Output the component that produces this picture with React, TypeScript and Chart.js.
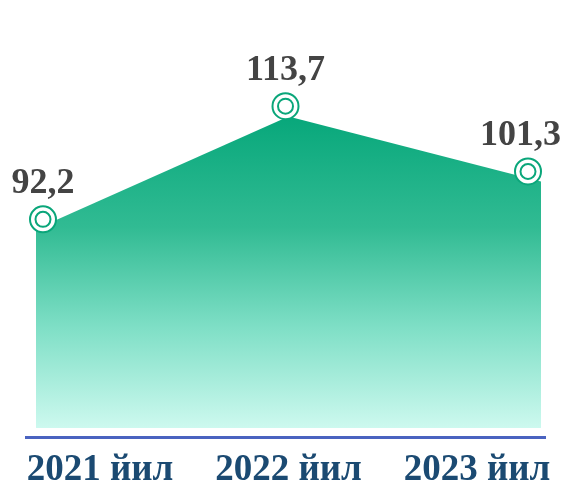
import React, { useEffect, useRef } from "react";
import { Chart, registerables } from "chart.js";

Chart.register(...registerables);

const categories = ["2021 йил", "2022 йил", "2023 йил"];
const values = [92.2, 113.7, 101.3];

const GREEN = "#0aa67a";
const LABEL_FONT = "'Liberation Serif', 'Times New Roman', serif";

const valueLabels = {
  id: "valueLabels",
  afterDatasetsDraw(chart: any) {
    const meta = chart.getDatasetMeta(1);
    const ctx = chart.ctx;
    ctx.save();
    ctx.font = `bold 36px ${LABEL_FONT}`;
    ctx.fillStyle = "#444444";
    ctx.textAlign = "center";
    ctx.textBaseline = "alphabetic";
    meta.data.forEach((el: any, i: number) => {
      const text = values[i].toFixed(1).replace(".", ",");
      const w = ctx.measureText(text).width;
      let x = el.x;
      if (x + w / 2 > chart.width - 5) x = chart.width - 5 - w / 2;
      if (x - w / 2 < 5) x = 5 + w / 2;
      ctx.fillText(text, x, el.y - 26);
    });
    ctx.restore();
  },
};

export default function App() {
  const ref = useRef<HTMLCanvasElement>(null);
  useEffect(() => {
    if (!ref.current) return;
    const pts = values.map((v, i) => ({ x: i, y: v }));
    const chart = new Chart(ref.current, {
      type: "line",
      data: {
        datasets: [
          {
            data: pts,
            xAxisID: "xm",
            yAxisID: "ym",
            showLine: false,
            pointRadius: 7.5,
            pointBackgroundColor: "#ffffff",
            pointBorderColor: GREEN,
            pointBorderWidth: 2,
            order: 1,
          },
          {
            data: pts,
            xAxisID: "xm",
            yAxisID: "ym",
            showLine: false,
            pointRadius: 13,
            pointBackgroundColor: "#ffffff",
            pointBorderColor: GREEN,
            pointBorderWidth: 2,
            order: 2,
          },
          {
            data: pts,
            xAxisID: "xa",
            yAxisID: "ya",
            borderWidth: 0,
            pointRadius: 0,
            tension: 0,
            fill: { value: 54.2 },
            backgroundColor: (c: any) => {
              const { chart: ch } = c;
              const area = ch.chartArea;
              if (!area) return GREEN;
              const g = ch.ctx.createLinearGradient(0, area.top, 0, area.bottom);
              g.addColorStop(0, "#00a070");
              g.addColorStop(0.25, "#05a679");
              g.addColorStop(0.52, "#31bb93");
              g.addColorStop(0.75, "#7fdfc6");
              g.addColorStop(0.98, "#cdf9ef");
              g.addColorStop(1, "#d2faf0");
              return g;
            },
            order: 3,
          },
        ],
      },
      options: {
        responsive: false,
        animation: false,
        layout: { autoPadding: false, padding: { left: 26, right: 21, top: 0, bottom: 0 } },
        plugins: { legend: { display: false }, tooltip: { enabled: false } },
        scales: {
          x: {
            type: "linear",
            position: "bottom",
            min: -0.3926,
            max: 2.3607,
            grid: { display: false, drawTicks: false, tickLength: 0 },
            border: { display: true, color: "#4a63c0", width: 3 },
            afterFit: (s: any) => {
              s.height = 43;
            },
            ticks: {
              stepSize: 1,
              includeBounds: false,
              autoSkip: false,
              maxRotation: 0,
              minRotation: 0,
              padding: 11,
              color: "#1b4a72",
              font: { family: LABEL_FONT, size: 37, weight: "bold" },
              callback: (v: any) => categories[v] ?? "",
            },
          },
          xa: { type: "linear", display: false, min: -0.0396, max: 2.0158 },
          xm: { type: "linear", display: false, min: -0.0701, max: 2.0701 },
          ya: { type: "linear", display: false, min: 52.48, max: 135.96 },
          ym: { type: "linear", display: false, min: 50.85, max: 133.88 },
        },
      },
      plugins: [valueLabels],
    } as any);
    return () => chart.destroy();
  }, []);
  return (
    <canvas
      ref={ref}
      width={566}
      height={480}
      style={{ position: "fixed", left: 0, top: 0, display: "block" }}
    />
  );
}
